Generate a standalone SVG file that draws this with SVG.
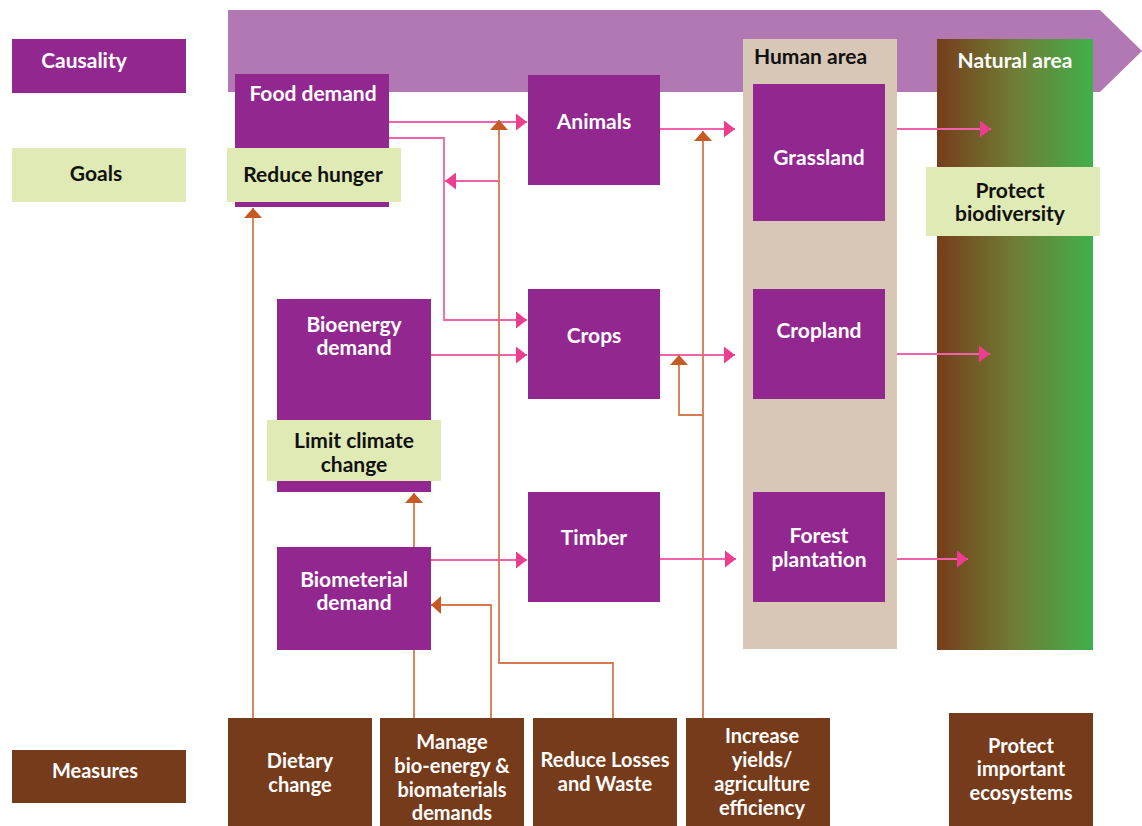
<svg xmlns="http://www.w3.org/2000/svg" width="1142" height="826" viewBox="0 0 1142 826">
<style>
text{font-family:Lato,"Open Sans","Liberation Sans",sans-serif;font-size:21px;font-weight:bold;text-anchor:middle}
.w{fill:#ffffff}
.k{fill:#111111}
.node{fill:#92278f}
.goal{fill:#e0eab4}
.meas{fill:#763b1b}
.pk{fill:none;stroke:#f062aa;stroke-width:1.8;marker-end:url(#ap)}
.or{fill:none;stroke:#d47a4c;stroke-width:1.8;marker-end:url(#ao)}
</style>
<defs>
<marker id="ap" viewBox="0 0 11 17" refX="11" refY="8.5" markerWidth="11" markerHeight="17" markerUnits="userSpaceOnUse" orient="auto"><path d="M0,0 L11,8.5 L0,17 Z" fill="#ec3d8f"/></marker>
<marker id="ao" viewBox="0 0 10 18" refX="10" refY="9" markerWidth="10" markerHeight="18" markerUnits="userSpaceOnUse" orient="auto"><path d="M0,0 L10,9 L0,18 Z" fill="#c55a24"/></marker>
<linearGradient id="nat" x1="0" y1="0" x2="1" y2="0"><stop offset="0" stop-color="#763d1b"/><stop offset="0.5" stop-color="#6f7d35"/><stop offset="1" stop-color="#40b04a"/></linearGradient>
</defs>
<rect width="1142" height="826" fill="#ffffff"/>
<g id="causality-band"><path d="M228,10 H1100 L1142,51 L1100,92 H228 Z" fill="#b278b3"/></g>
<g id="legend-causality"><rect x="12" y="39" width="174" height="54" class="node"/><text x="84" y="68" class="w">Causality</text></g>
<g id="legend-goals"><rect x="12" y="148" width="174" height="54" class="goal"/><text x="96" y="181" class="k">Goals</text></g>
<g id="legend-measures"><rect x="12" y="750" width="174" height="53" class="meas"/><text x="95" y="778" class="w" style="font-size:20px">Measures</text></g>
<g id="human-area"><rect x="743" y="39" width="154" height="610" fill="#d8c7b6"/><text x="754" y="64" class="k" style="text-anchor:start">Human area</text></g>
<g id="natural-area"><rect x="937" y="39" width="156" height="611" fill="url(#nat)"/><text x="1015" y="68" class="w">Natural area</text></g>
<g id="connectors">
<path class="pk" d="M389,122 H527"/>
<path class="pk" d="M389,138 H444 V320 H527"/>
<path class="pk" d="M498,181 H445"/>
<path class="pk" d="M431,355 H527"/>
<path class="pk" d="M660,129 H735"/>
<path class="pk" d="M660,355 H735"/>
<path class="pk" d="M431,560 H527"/>
<path class="pk" d="M660,559 H736"/>
<path class="pk" d="M897,129 H991"/>
<path class="pk" d="M897,354 H990"/>
<path class="pk" d="M897,559 H968"/>
<path class="or" d="M253,718 V208"/>
<path class="or" d="M414,718 V493"/>
<path class="or" d="M491,718 V605 H431"/>
<path class="or" d="M613,718 V663 H499 V120"/>
<path class="or" d="M703,718 V131"/>
<path class="or" d="M703,415 H679 V355"/>
</g>
<g id="food-demand"><rect x="235" y="74" width="154" height="133" class="node"/><text x="313" y="101" class="w">Food demand</text></g>
<g id="reduce-hunger"><rect x="227" y="148" width="174" height="54" class="goal"/><text x="313" y="182" class="k">Reduce hunger</text></g>
<g id="animals"><rect x="528" y="75" width="132" height="110" class="node"/><text x="594" y="129" class="w">Animals</text></g>
<g id="crops"><rect x="528" y="289" width="132" height="110" class="node"/><text x="594" y="343" class="w">Crops</text></g>
<g id="timber"><rect x="528" y="492" width="132" height="110" class="node"/><text x="594" y="545" class="w">Timber</text></g>
<g id="bioenergy-demand"><rect x="277" y="299" width="154" height="193" class="node"/><text x="354" y="332" class="w">Bioenergy</text><text x="354" y="355" class="w">demand</text></g>
<g id="limit-climate-change"><rect x="267" y="420" width="174" height="61" class="goal"/><text x="354" y="448" class="k">Limit climate</text><text x="354" y="472" class="k">change</text></g>
<g id="biomaterial-demand"><rect x="277" y="547" width="154" height="103" class="node"/><text x="354" y="587" class="w">Biometerial</text><text x="354" y="610" class="w">demand</text></g>
<g id="grassland"><rect x="753" y="84" width="132" height="137" class="node"/><text x="819" y="165" class="w">Grassland</text></g>
<g id="cropland"><rect x="753" y="289" width="132" height="110" class="node"/><text x="819" y="338" class="w">Cropland</text></g>
<g id="forest-plantation"><rect x="753" y="492" width="132" height="110" class="node"/><text x="819" y="543" class="w">Forest</text><text x="819" y="567" class="w">plantation</text></g>
<g id="protect-biodiversity"><rect x="926" y="167" width="174" height="69" class="goal"/><text x="1010" y="198" class="k">Protect</text><text x="1010" y="221" class="k">biodiversity</text></g>
<g id="dietary-change"><rect x="228" y="718" width="144" height="108" class="meas"/><text x="300" y="768" class="w" style="font-size:20px">Dietary</text><text x="300" y="792" class="w" style="font-size:20px">change</text></g>
<g id="manage-demands"><rect x="380" y="718" width="144" height="108" class="meas"/><text x="452" y="749" class="w" style="font-size:20px">Manage</text><text x="452" y="773" class="w" style="font-size:20px">bio-energy &amp;</text><text x="452" y="797" class="w" style="font-size:20px">biomaterials</text><text x="452" y="820" class="w" style="font-size:20px">demands</text></g>
<g id="reduce-losses"><rect x="533" y="718" width="144" height="108" class="meas"/><text x="605" y="767" class="w" style="font-size:20px">Reduce Losses</text><text x="605" y="791" class="w" style="font-size:20px">and Waste</text></g>
<g id="increase-yields"><rect x="686" y="718" width="144" height="108" class="meas"/><text x="762" y="743" class="w" style="font-size:20px">Increase</text><text x="762" y="767" class="w" style="font-size:20px">yields/</text><text x="762" y="791" class="w" style="font-size:20px">agriculture</text><text x="762" y="815" class="w" style="font-size:20px">efficiency</text></g>
<g id="protect-ecosystems"><rect x="949" y="713" width="144" height="113" class="meas"/><text x="1021" y="753" class="w" style="font-size:20px">Protect</text><text x="1021" y="776" class="w" style="font-size:20px">important</text><text x="1021" y="800" class="w" style="font-size:20px">ecosystems</text></g>
</svg>
